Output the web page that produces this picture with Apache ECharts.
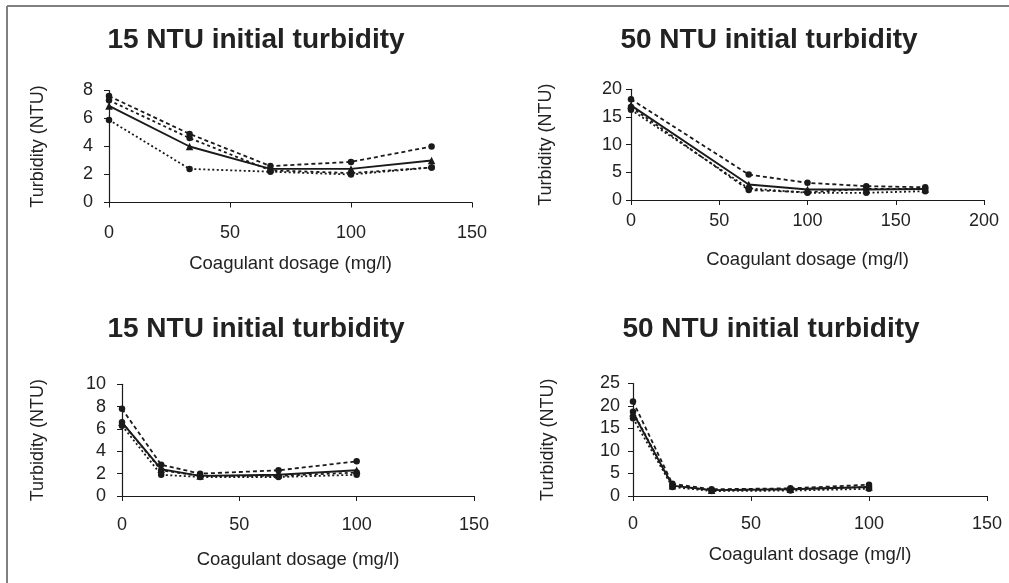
<!DOCTYPE html>
<html>
<head>
<meta charset="utf-8">
<script src="https://cdn.jsdelivr.net/npm/echarts@6/dist/echarts.min.js"></script>
<style>
  html, body { margin: 0; padding: 0; background: #fff; }
  #chart { width: 1009px; height: 583px; }
</style>
</head>
<body>
<div id="chart"></div>
<script>
// panel titles
const titles = ['15 NTU initial turbidity', '50 NTU initial turbidity', '15 NTU initial turbidity', '50 NTU initial turbidity']

// coagulant dosage (mg/l) per panel
const dose1 = [0, 33.3, 66.7, 100, 133.3]
const dose2 = [0, 66.7, 100, 133.3, 166.7]
const dose3 = [0, 16.7, 33.3, 66.7, 100]
const dose4 = [0, 16.7, 33.3, 66.7, 100]

// turbidity (NTU): three runs (dashed) + average (solid)
const p1RunA = [7.6, 4.9, 2.6, 2.9, 4.0]
const p1RunB = [7.3, 4.6, 2.3, 2.1, 2.5]
const p1RunC = [5.9, 2.4, 2.2, 2.0, 2.5]
const p1Mean = [6.9, 4.0, 2.4, 2.4, 3.0]

const p2RunA = [18.2, 4.6, 3.1, 2.5, 2.3]
const p2RunB = [16.8, 1.8, 1.4, 2.0, 2.0]
const p2RunC = [16.3, 2.1, 1.3, 1.3, 1.6]
const p2Mean = [17.1, 2.8, 1.9, 1.9, 2.0]

const p3RunA = [7.8, 2.8, 2.0, 2.3, 3.1]
const p3RunB = [6.6, 2.3, 1.8, 1.8, 2.1]
const p3RunC = [6.3, 1.9, 1.7, 1.7, 1.9]
const p3Mean = [6.6, 2.4, 1.8, 1.9, 2.3]

const p4RunA = [21.0, 2.7, 1.5, 1.7, 2.5]
const p4RunB = [18.7, 2.3, 1.3, 1.5, 2.0]
const p4RunC = [17.3, 2.0, 1.1, 1.2, 1.6]
const p4Mean = [18.5, 2.3, 1.3, 1.5, 2.0]

// axis ticks: [max, interval]
const xTicks = [[150, 50], [200, 50], [150, 50], [150, 50]]
const yTicks = [[8, 2], [20, 5], [10, 2], [25, 5]]

const panels = [
  { dose: dose1, runs: [p1RunA, p1RunB, p1RunC], mean: p1Mean },
  { dose: dose2, runs: [p2RunA, p2RunB, p2RunC], mean: p2Mean },
  { dose: dose3, runs: [p3RunA, p3RunB, p3RunC], mean: p3Mean },
  { dose: dose4, runs: [p4RunA, p4RunB, p4RunC], mean: p4Mean }
]

// layout
const grids = [
  { left: 109, top: 90.5, width: 363, height: 112 },
  { left: 631, top: 89.3, width: 353, height: 110.7 },
  { left: 122, top: 384.3, width: 352, height: 111.7 },
  { left: 633, top: 383.5, width: 354, height: 112.5 }
]
const titlePos = [[251, 21], [764, 21], [251, 310], [766, 310]]
const xLabelMargin = [22, 12, 20, 19]
const xNameGap = [52, 50, 54, 49]
const yLabelMargin = [16, 9, 16, 13]
const yNameGap = [62, 76, 75, 76]
const dashes = [[4, 3], [3, 3], [2, 2.5]]

const font = 'Liberation Sans, Arial, sans-serif'
const black = '#1a1a1a'

const zip = (xs, ys) => xs.map((x, i) => [x, ys[i]])

const chart = echarts.init(document.getElementById('chart'))

const series = []
panels.forEach((p, k) => {
  p.runs.forEach((run, j) => {
    series.push({
      type: 'line',
      xAxisIndex: k,
      yAxisIndex: k,
      data: zip(p.dose, run),
      symbol: 'circle',
      symbolSize: 6.5,
      itemStyle: { color: black },
      lineStyle: { color: black, width: 1.8, type: dashes[j] },
      z: 2
    })
  })
  series.push({
    type: 'line',
    xAxisIndex: k,
    yAxisIndex: k,
    data: zip(p.dose, p.mean),
    symbol: 'triangle',
    symbolSize: 7.5,
    itemStyle: { color: black },
    lineStyle: { color: black, width: 1.9, type: 'solid' },
    z: 3
  })
})

const option = {
  backgroundColor: '#fff',
  animation: false,
  title: titles.map((t, k) => ({
    text: t,
    left: titlePos[k][0],
    top: titlePos[k][1],
    textAlign: 'center',
    textStyle: { fontFamily: font, fontSize: 28, fontWeight: 'bold', color: '#222' }
  })),
  grid: grids,
  xAxis: grids.map((g, k) => ({
    type: 'value',
    gridIndex: k,
    min: 0,
    max: xTicks[k][0],
    interval: xTicks[k][1],
    name: 'Coagulant dosage (mg/l)',
    nameLocation: 'middle',
    nameGap: xNameGap[k],
    nameTextStyle: { fontFamily: font, fontSize: 18.5, color: '#222' },
    axisLine: { show: true, onZero: false, lineStyle: { color: black, width: 1.2 } },
    axisTick: { show: true, inside: false, length: 5, lineStyle: { color: black } },
    axisLabel: { fontFamily: font, fontSize: 18, color: '#222', margin: xLabelMargin[k] },
    splitLine: { show: false }
  })),
  yAxis: grids.map((g, k) => ({
    type: 'value',
    gridIndex: k,
    min: 0,
    max: yTicks[k][0],
    interval: yTicks[k][1],
    name: 'Turbidity (NTU)',
    nameLocation: 'middle',
    nameGap: yNameGap[k],
    nameTextStyle: { fontFamily: font, fontSize: 18, color: '#222' },
    axisLine: { show: true, onZero: false, lineStyle: { color: black, width: 1.2 } },
    axisTick: { show: true, inside: false, length: 5, lineStyle: { color: black } },
    axisLabel: { fontFamily: font, fontSize: 18, color: '#222', margin: yLabelMargin[k] },
    splitLine: { show: false }
  })),
  graphic: [
    { type: 'line', shape: { x1: 7, y1: 6, x2: 1009, y2: 6 }, style: { stroke: '#808080', lineWidth: 2 } },
    { type: 'line', shape: { x1: 7, y1: 6, x2: 7, y2: 583 }, style: { stroke: '#808080', lineWidth: 2 } }
  ],
  series: series
}

chart.setOption(option)
</script>
</body>
</html>
